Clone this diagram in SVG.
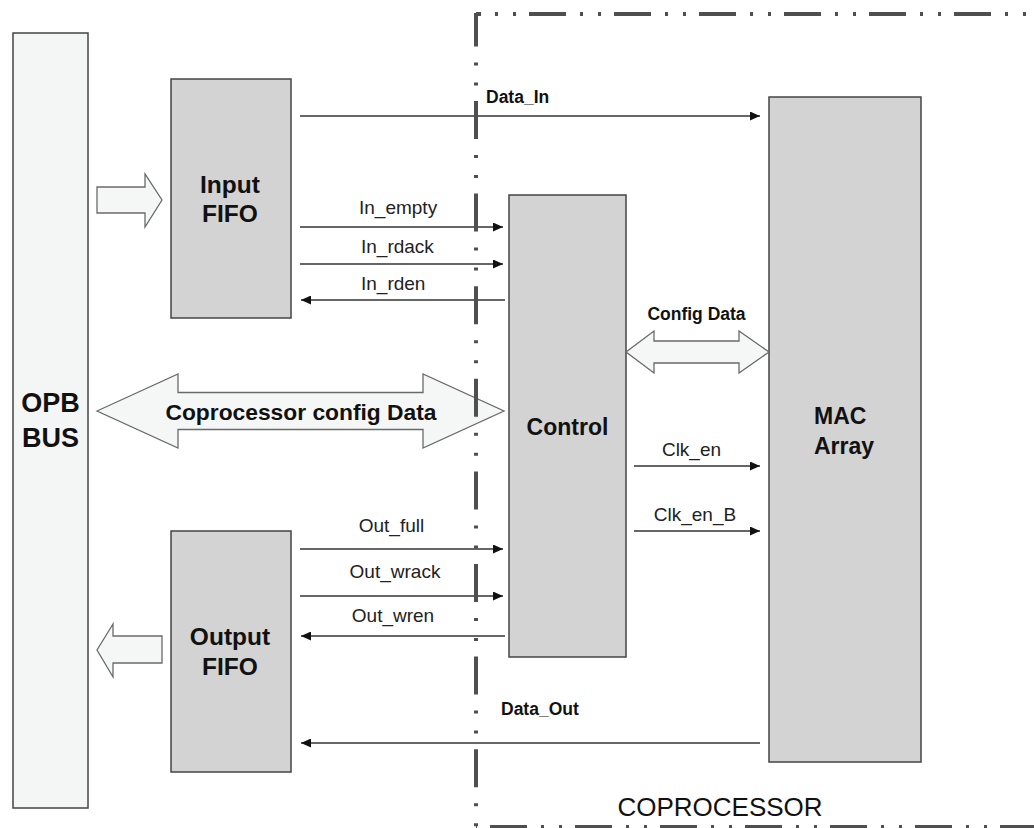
<svg xmlns="http://www.w3.org/2000/svg" width="1034" height="828" viewBox="0 0 1034 828">
<defs>
<style>
.box{fill:#d3d3d3;stroke:#444;stroke-width:1.5}
.bus{fill:#f4f6f6;stroke:#444;stroke-width:1.5}
.blk{fill:#f5f7f7;stroke:#6a6a6a;stroke-width:1.3}
.big{font-family:"Liberation Sans",Arial,sans-serif;font-weight:bold;fill:#111}
.sig{font-family:"Liberation Sans",Arial,sans-serif;font-size:19px;fill:#222}
.bsig{font-family:"Liberation Sans",Arial,sans-serif;font-size:17.5px;font-weight:bold;fill:#111}
.wire{stroke:#333;stroke-width:1.5;fill:none}
.border{stroke:#4f4f4f;stroke-width:4;fill:none}
</style>
<marker id="ah" markerUnits="userSpaceOnUse" markerWidth="10" markerHeight="9" refX="10" refY="4.5" orient="auto">
<path d="M0,0 L10,4.5 L0,9 z" fill="#111"/>
</marker>
</defs>
<rect width="1034" height="828" fill="#fff"/>

<g id="opb-bus">
<rect class="bus" x="13" y="33" width="75" height="775"/>
<text class="big" font-size="27" x="50.5" y="412" text-anchor="middle">OPB</text>
<text class="big" font-size="27" x="50.5" y="447" text-anchor="middle">BUS</text>
</g>

<g id="input-fifo">
<rect class="box" x="171" y="79" width="120" height="239"/>
<text class="big" font-size="24.5" x="230" y="193" text-anchor="middle">Input</text>
<text class="big" font-size="24.5" x="230" y="222" text-anchor="middle">FIFO</text>
</g>

<g id="output-fifo">
<rect class="box" x="171" y="531" width="120" height="241"/>
<text class="big" font-size="24.5" x="230" y="645" text-anchor="middle">Output</text>
<text class="big" font-size="24.5" x="230" y="675" text-anchor="middle">FIFO</text>
</g>

<g id="control">
<rect class="box" x="509" y="195" width="117" height="462"/>
<text class="big" font-size="23" x="567.5" y="435" text-anchor="middle">Control</text>
</g>

<g id="mac-array">
<rect class="box" x="769" y="97" width="152" height="665"/>
<text class="big" font-size="23" x="814" y="424">MAC</text>
<text class="big" font-size="23" x="814" y="454">Array</text>
</g>

<g id="block-arrows">
<path class="blk" d="M97,187 H145 V174 L162,200 L145,227 V213 H97 Z"/>
<path class="blk" d="M97,650 L113,624 V636 H162 V663 H113 V677 Z"/>
<path class="blk" d="M97,411 L178,374 V392.5 H423 V374 L504,411 L423,448 V429.5 H178 V448 Z"/>
<path class="blk" d="M626,352 L654,331 V341 H739 V331 L769,352 L739,373 V363 H654 V373 Z"/>
<text class="big" font-size="22.8" x="301" y="420" text-anchor="middle">Coprocessor config Data</text>
<text class="bsig" x="696.5" y="320" text-anchor="middle">Config Data</text>
</g>

<g id="connectors">
<line class="wire" x1="300" y1="116" x2="760" y2="116" marker-end="url(#ah)"/>
<line class="wire" x1="300" y1="227" x2="503" y2="227" marker-end="url(#ah)"/>
<line class="wire" x1="300" y1="264" x2="503" y2="264" marker-end="url(#ah)"/>
<line class="wire" x1="505" y1="300" x2="301" y2="300" marker-end="url(#ah)"/>
<line class="wire" x1="300" y1="549" x2="503" y2="549" marker-end="url(#ah)"/>
<line class="wire" x1="300" y1="596" x2="503" y2="596" marker-end="url(#ah)"/>
<line class="wire" x1="505" y1="636" x2="301" y2="636" marker-end="url(#ah)"/>
<line class="wire" x1="634" y1="466" x2="760" y2="466" marker-end="url(#ah)"/>
<line class="wire" x1="634" y1="531" x2="760" y2="531" marker-end="url(#ah)"/>
<line class="wire" x1="760" y1="743" x2="301" y2="743" marker-end="url(#ah)"/>
</g>

<g id="labels">
<text class="bsig" x="486" y="103">Data_In</text>
<text class="bsig" x="501" y="715">Data_Out</text>
<text class="sig" x="359" y="214">In_empty</text>
<text class="sig" x="361" y="253">In_rdack</text>
<text class="sig" x="361" y="290">In_rden</text>
<text class="sig" x="391.5" y="532" text-anchor="middle">Out_full</text>
<text class="sig" x="395" y="578" text-anchor="middle">Out_wrack</text>
<text class="sig" x="393" y="622" text-anchor="middle">Out_wren</text>
<text class="sig" font-size="17.5" x="691.5" y="456" text-anchor="middle">Clk_en</text>
<text class="sig" font-size="17.5" x="695" y="521" text-anchor="middle">Clk_en_B</text>
</g>

<g id="coprocessor-border">
<line class="border" x1="476" y1="14" x2="1040" y2="14" stroke-dasharray="37 14 3 15 3 13" stroke-dashoffset="32"/>
<line class="border" x1="476" y1="13" x2="476" y2="830" stroke-dasharray="38 16 3 17 3 15.6" stroke-dashoffset="4.6"/>
<line class="border" x1="476" y1="827" x2="1040" y2="827" stroke-dasharray="37 14 3 15 3 13" stroke-dashoffset="71"/>
<text font-family="'Liberation Sans',Arial,sans-serif" font-size="26" fill="#111" x="720" y="816" text-anchor="middle">COPROCESSOR</text>
</g>
</svg>
